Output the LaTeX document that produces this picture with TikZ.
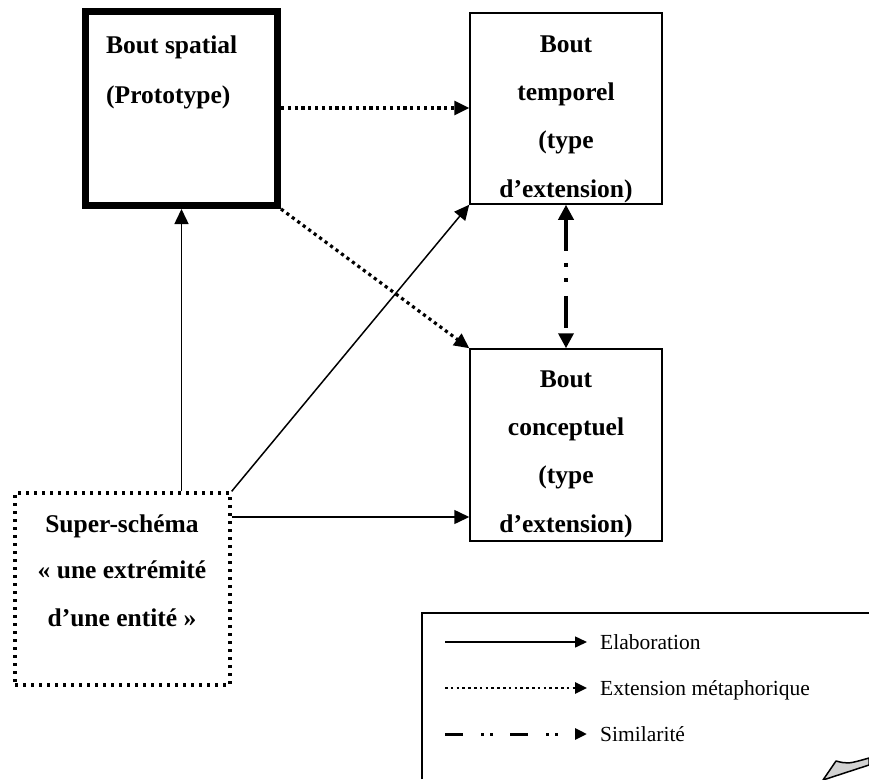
\documentclass[tikz,border=0pt]{standalone}
\usepackage{fontspec}
\setmainfont{Liberation Serif}
\usetikzlibrary{arrows.meta}
\begin{document}
\begin{tikzpicture}[x=1pt,y=-1pt,
  tip/.style={-{Triangle[length=15pt,width=14pt]}},
  ltip/.style={-{Triangle[length=12pt,width=11pt]}},
  thinbox/.style={draw, line width=1.5pt, inner sep=0pt, minimum width=192pt},
  spatbox/.style={draw, line width=7pt, inner sep=0pt, minimum width=192pt, minimum height=194pt},
  dotbox/.style={draw, line width=3.3pt, dash pattern=on 3.3pt off 4.7pt, inner sep=0pt, minimum width=215pt, minimum height=192pt},
  lbl/.style={inner sep=0pt, anchor=base, font=\fontsize{25.5}{30}\selectfont\bfseries},
  lbll/.style={lbl, anchor=base west},
  legtxt/.style={inner sep=0pt, anchor=base west, font=\fontsize{21.5}{26}\selectfont},
  elab/.style={line width=1.5pt, tip},
  meta/.style={line width=3.2pt, dash pattern=on 3.2pt off 3.6pt, tip},
  simi/.style={line width=3.5pt, dash pattern=on 32pt off 12pt on 4pt off 11pt on 4pt off 14pt,
    {Triangle[length=15pt,width=15pt]}-{Triangle[length=15pt,width=15pt]}}
]
\useasboundingbox (0,0) rectangle (869,779);

% boxes
\node[spatbox] (spat) at (181.5,108.5) {};
\node[thinbox, minimum height=191pt] (temp) at (566,108.5) {};
\node[thinbox, minimum height=192pt] (conc) at (566,445) {};
\node[dotbox] (sup) at (122.5,589) {};

% texts
\node[lbll] (s1) at (106,53) {Bout spatial};
\node[lbll] (s2) at (106,103) {(Prototype)};

\node[lbl] (t1) at (566,52) {Bout};
\node[lbl] (t2) at (566,100) {temporel};
\node[lbl] (t3) at (566,148) {(type};
\node[lbl] (t4) at (566,197) {d’extension)};

\node[lbl] (c1) at (566,387) {Bout};
\node[lbl] (c2) at (566,435) {conceptuel};
\node[lbl] (c3) at (566,483) {(type};
\node[lbl] (c4) at (566,532) {d’extension)};

\node[lbl] (u1) at (122,532) {Super-schéma};
\node[lbl] (u2) at (122,578) {«~une extrémité};
\node[lbl] (u3) at (122,626) {d’une entité~»};

% connectors
\coordinate (dy) at (350,108);
\coordinate (hy) at (350,517);
\draw[elab] (sup.north -| spat.south) -- (spat.south);
\draw[elab] (sup.north east) -- (temp.south west);
\draw[elab] (sup.east |- hy) -- (conc.west |- hy);
\draw[meta] (spat.east |- dy) -- (temp.west |- dy);
\draw[meta] (spat.south east) -- (conc.north west);
\draw[simi] (temp.south) -- (conc.north);

% legend
\coordinate (lg1) at (422,779);
\coordinate (lg2) at (422,613);
\coordinate (lg3) at (869,613);
\draw[line width=1.5pt] (lg1) -- (lg2) -- (lg3);

\coordinate (a1) at (445,642);
\coordinate (b1) at (587,642);
\draw[line width=1.5pt, ltip] (a1) -- (b1);
\node[legtxt] (e1) at (600,649.5) {Elaboration};

\coordinate (a2) at (445,688);
\coordinate (b2) at (587,688);
\draw[line width=2.6pt, dash pattern=on 2.6pt off 3.2pt, ltip] (a2) -- (b2);
\node[legtxt] (e2) at (600,695.5) {Extension métaphorique};

\coordinate (a3) at (445,734);
\coordinate (b3) at (587,734);
\draw[line width=3pt, dash pattern=on 18pt off 18pt on 3pt off 6pt on 3pt off 17pt, ltip] (a3) -- (b3);
\node[legtxt] (e3) at (600,741.5) {Similarité};

% small grey shape at bottom right
\draw[fill=gray!35, line width=1.5pt, line join=round]
  (823,780) -- (836,761) .. controls (848,764) .. (869,758) -- (869,765) -- cycle;
\end{tikzpicture}
\end{document}
